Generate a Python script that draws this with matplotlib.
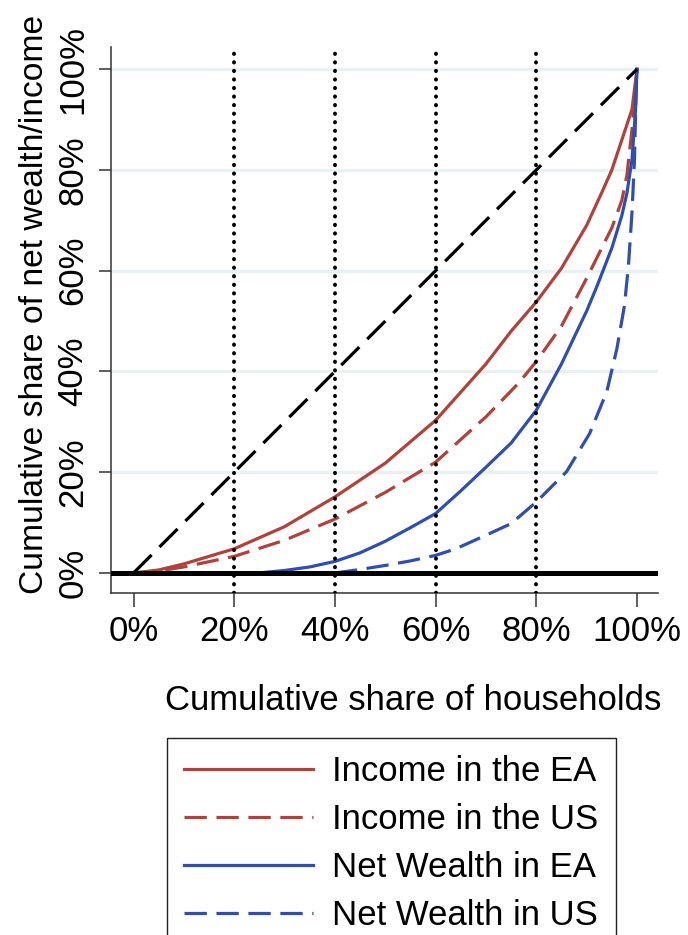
import numpy as np
import matplotlib
matplotlib.use("Agg")
import matplotlib.pyplot as plt
from matplotlib.ticker import FuncFormatter

plt.rcParams['font.family'] = ['Liberation Sans', 'DejaVu Sans']

# Lorenz curves (x = cumulative share of households, %)
inc_ea_x = [0, 5, 10, 20, 30, 40, 50, 60, 70, 75, 80, 85, 90, 93, 95, 97, 99, 100]
inc_ea_y = [0, 0.6, 1.8, 4.8, 9.2, 15.1, 21.8, 30.3, 41.5, 48, 53.8, 60.5, 69, 75.5, 80, 86, 92, 100]

inc_us_x = [0, 5, 10, 20, 30, 40, 50, 60, 70, 76.5, 80, 85, 90, 93, 95, 97, 98, 99, 99.5, 100]
inc_us_y = [0, 0.4, 1.2, 3.3, 6.5, 10.7, 16, 22, 31, 37.7, 42, 49, 58.5, 64.5, 68.5, 74, 79, 88, 94, 100]

nw_ea_x = [24.7, 30, 35, 40, 45, 50, 55, 60, 65, 70, 75, 80, 85, 90, 92, 95, 97, 98, 99, 99.7, 100]
nw_ea_y = [0, 0.5, 1.2, 2.3, 4, 6.3, 9, 11.8, 16.3, 21, 25.8, 32.3, 41.5, 52, 56.8, 64.5, 71, 75.4, 82, 91.8, 100]

nw_us_x = [40, 45, 50, 55, 60, 64, 70, 75, 80, 86, 90.6, 94, 96, 97.5, 98.3, 99, 99.5, 99.8, 100]
nw_us_y = [0, 0.7, 1.5, 2.4, 3.5, 4.8, 7.5, 9.8, 14.1, 20.1, 27.7, 36, 44.5, 53, 61, 71.5, 82, 95, 100]

equality = [0, 100]
ticks = [0, 20, 40, 60, 80, 100]
guide_x = [20, 40, 60, 80]

labels = ["Income in the EA", "Income in the US", "Net Wealth in EA", "Net Wealth in US"]

red = "#B0423A"
blue = "#2F4FB0"
fs = 25

fig = plt.figure(figsize=(6.88, 9.35), dpi=100)
ax = fig.add_axes([111 / 688, 1 - 593 / 935, (658 - 111) / 688, (593 - 47) / 935])

ax.set_xlim(-4.47, 104.17)
ax.set_ylim(-3.97, 104.4)

for t in ticks[1:]:
    ax.axhline(t, color="#E9F1F2", lw=2.4, zorder=0)

ax.plot(inc_ea_x, inc_ea_y, color=red, lw=2.3, label=labels[0], zorder=3)
ax.plot(inc_us_x, inc_us_y, color=red, lw=2.3, ls=(0, (7, 3)), label=labels[1], zorder=3)
ax.plot(nw_ea_x, nw_ea_y, color=blue, lw=2.3, label=labels[2], zorder=3)
ax.plot(nw_us_x, nw_us_y, color=blue, lw=2.3, ls=(0, (7, 3)), label=labels[3], zorder=3)
ax.plot(equality, equality, color="black", lw=2.3, ls=(0, (8, 3.5)), zorder=3)

ax.axhline(0, color="black", lw=3.6, zorder=4)
for gx in guide_x:
    ax.axvline(gx, color="black", lw=2.8, ls=(0, (0.1, 2.1)),
               dash_capstyle="round", zorder=5)

ax.spines['top'].set_visible(False)
ax.spines['right'].set_visible(False)
for side in ['left', 'bottom']:
    ax.spines[side].set_color("#333333")
    ax.spines[side].set_linewidth(1.1)

pct = FuncFormatter(lambda v, p: f"{v:.0f}%")
ax.set_xticks(ticks)
ax.set_yticks(ticks)
ax.xaxis.set_major_formatter(pct)
ax.yaxis.set_major_formatter(pct)
ax.tick_params(axis='x', length=10, width=1.1, color="#333333", pad=6, labelsize=fs)
ax.tick_params(axis='y', length=8.5, width=1.1, color="#333333", pad=7, labelsize=fs)
for lab in ax.get_yticklabels():
    lab.set_rotation(90)
    lab.set_va("center")

fig.text(165 / 688, 1 - 710 / 935, "Cumulative share of households",
         fontsize=fs, ha="left", va="baseline")
# y title is a bit smaller so the whole text stays inside the figure
fig.text(43 / 688, 1 - 594 / 935, "Cumulative share of net wealth/income",
         fontsize=24.2, rotation=90, rotation_mode="anchor", ha="left", va="baseline")

leg = fig.legend(loc="upper left", bbox_to_anchor=(167 / 688, 1 - 738 / 935),
                 borderaxespad=0, fontsize=fs, handlelength=3.7, handletextpad=0.55,
                 labelspacing=0.43, borderpad=0.5, fancybox=False, framealpha=1)
leg.get_frame().set_edgecolor("#222222")
leg.get_frame().set_linewidth(1.0)

fig.savefig("out.png", dpi=100)
